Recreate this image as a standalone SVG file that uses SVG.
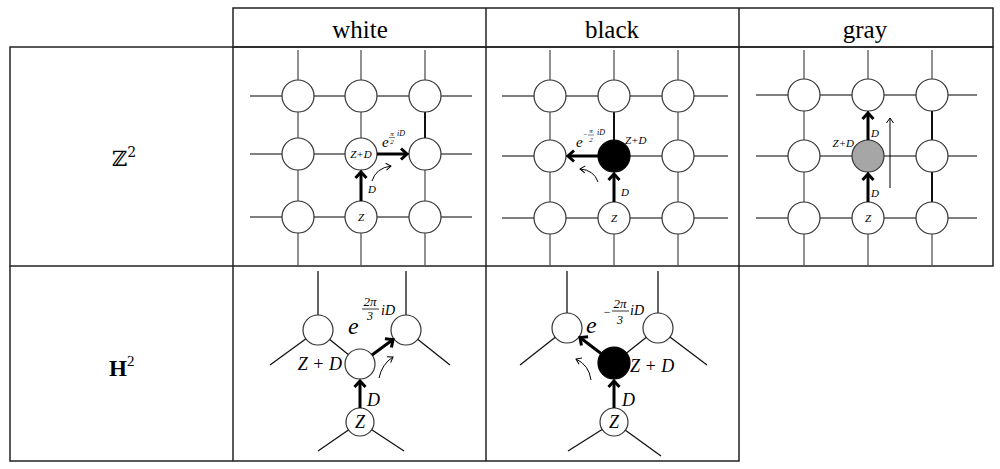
<svg xmlns="http://www.w3.org/2000/svg" width="1000" height="469" viewBox="0 0 1000 469">
<style>
.tb{stroke:#222;stroke-width:1.5;fill:none}
.g{stroke:#555;stroke-width:1.3;fill:none}
.hl{stroke:#111;stroke-width:2;fill:none}
.k{stroke:#111;stroke-width:1.3;fill:none}
.c{fill:#fff;stroke:#333;stroke-width:1.2}
.cb{fill:#000;stroke:#000;stroke-width:1.2}
.cg{fill:#a6a6a6;stroke:#333;stroke-width:1.2}
.ta{stroke:#000;stroke-width:3;fill:none;marker-end:url(#th)}
.tn{stroke:#000;stroke-width:1;fill:none;marker-end:url(#tn)}
.hd{font-family:'Liberation Serif','DejaVu Serif',serif;font-size:25px;text-anchor:middle;fill:#000}
.i{font-family:'Liberation Serif','DejaVu Serif',serif;font-style:italic;fill:#000}
.s{font-size:11px}
.m{font-size:18px}
.ctr{text-anchor:middle}
</style>
<defs>
<marker id="th" markerUnits="userSpaceOnUse" markerWidth="14" markerHeight="14" refX="8" refY="7" orient="auto">
<path d="M2,1.5 L8,7 L2,12.5" stroke="#000" stroke-width="3" fill="none"/>
</marker>
<marker id="tn" markerUnits="userSpaceOnUse" markerWidth="10" markerHeight="10" refX="6" refY="5" orient="auto">
<path d="M1,1.5 L6,5 L1,8.5" stroke="#000" stroke-width="1" fill="none"/>
</marker>
</defs>
<g id="table">
<rect x="233" y="8" width="760" height="39" class="tb"/>
<line x1="486" y1="8" x2="486" y2="461" class="tb"/>
<line x1="739" y1="8" x2="739" y2="266" class="tb"/>
<rect x="10" y="47" width="983" height="219" class="tb"/>
<polyline points="10,266 10,461 739,461 739,266" class="tb"/>
<line x1="233" y1="47" x2="233" y2="461" class="tb"/>
<text x="360" y="38" class="hd">white</text>
<text x="612" y="38" class="hd">black</text>
<text x="865" y="38" class="hd">gray</text>
<text x="112" y="166" font-family="'DejaVu Serif',serif" font-size="21">ℤ<tspan font-size="14" dy="-9">2</tspan></text>
<text x="109" y="376" font-family="'Liberation Serif',serif" font-size="23" font-weight="bold">H<tspan font-size="15" font-weight="normal" dy="-10">2</tspan></text>
</g>
<g id="connectors">
<g class="g">
<line x1="298" y1="50" x2="298" y2="265"/><line x1="361" y1="50" x2="361" y2="265"/><line x1="425" y1="50" x2="425" y2="265"/>
<line x1="250" y1="96" x2="472" y2="96"/><line x1="250" y1="154" x2="472" y2="154"/><line x1="250" y1="217" x2="472" y2="217"/>
</g>
<line x1="425" y1="96" x2="425" y2="154" class="hl"/>
<g class="g">
<line x1="550" y1="50" x2="550" y2="265"/><line x1="614" y1="50" x2="614" y2="265"/><line x1="678" y1="50" x2="678" y2="265"/>
<line x1="502" y1="96" x2="728" y2="96"/><line x1="502" y1="156" x2="728" y2="156"/><line x1="502" y1="218" x2="728" y2="218"/>
</g>
<line x1="614" y1="96" x2="614" y2="156" class="hl"/>
<g class="g">
<line x1="804" y1="50" x2="804" y2="265"/><line x1="868" y1="50" x2="868" y2="265"/><line x1="932" y1="50" x2="932" y2="265"/>
<line x1="756" y1="95" x2="977" y2="95"/><line x1="756" y1="156" x2="977" y2="156"/><line x1="756" y1="218" x2="977" y2="218"/>
</g>
<line x1="932" y1="95" x2="932" y2="218" class="hl"/>
<g class="k">
<line x1="318" y1="271" x2="318" y2="330"/><line x1="318" y1="330" x2="270" y2="365"/><line x1="318" y1="330" x2="360" y2="364"/>
<line x1="406" y1="271" x2="406" y2="330"/><line x1="406" y1="330" x2="450" y2="365"/>
<line x1="360" y1="422" x2="318" y2="451"/><line x1="360" y1="422" x2="404" y2="451"/>
</g>
<g class="k">
<line x1="567" y1="271" x2="567" y2="328"/><line x1="567" y1="328" x2="520" y2="365"/>
<line x1="658" y1="271" x2="658" y2="328"/><line x1="658" y1="328" x2="707" y2="365"/><line x1="658" y1="328" x2="614" y2="363"/>
<line x1="614" y1="422" x2="568" y2="451"/><line x1="614" y1="422" x2="661" y2="456"/>
</g>
</g>
<g id="nodes-white">
<circle cx="298" cy="96" r="16" class="c"/><circle cx="361" cy="96" r="16" class="c"/><circle cx="425" cy="96" r="16" class="c"/>
<circle cx="298" cy="154" r="16" class="c"/><circle cx="361" cy="154" r="16" class="c"/><circle cx="425" cy="154" r="16" class="c"/>
<circle cx="298" cy="217" r="16" class="c"/><circle cx="361" cy="217" r="16" class="c"/><circle cx="425" cy="217" r="16" class="c"/>
</g>
<g id="nodes-black">
<circle cx="550" cy="96" r="16" class="c"/><circle cx="614" cy="96" r="16" class="c"/><circle cx="678" cy="96" r="16" class="c"/>
<circle cx="550" cy="156" r="16" class="c"/><circle cx="614" cy="156" r="16" class="cb"/><circle cx="678" cy="156" r="16" class="c"/>
<circle cx="550" cy="218" r="16" class="c"/><circle cx="614" cy="218" r="16" class="c"/><circle cx="678" cy="218" r="16" class="c"/>
</g>
<g id="nodes-gray">
<circle cx="804" cy="95" r="16" class="c"/><circle cx="868" cy="95" r="16" class="c"/><circle cx="932" cy="95" r="16" class="c"/>
<circle cx="804" cy="156" r="16" class="c"/><circle cx="868" cy="156" r="16" class="cg"/><circle cx="932" cy="156" r="16" class="c"/>
<circle cx="804" cy="218" r="16" class="c"/><circle cx="868" cy="218" r="16" class="c"/><circle cx="932" cy="218" r="16" class="c"/>
</g>
<g id="nodes-h2-white">
<circle cx="318" cy="330" r="15" class="c"/><circle cx="406" cy="330" r="15" class="c"/>
<circle cx="360" cy="364" r="15" class="c"/><circle cx="360" cy="422" r="14" class="c"/>
</g>
<g id="nodes-h2-black">
<circle cx="567" cy="328" r="15" class="c"/><circle cx="658" cy="328" r="15" class="c"/>
<circle cx="614" cy="363" r="16" class="cb"/><circle cx="614" cy="422" r="14" class="c"/>
</g>
<g id="arrows">
<line x1="361" y1="201" x2="361" y2="172" class="ta"/>
<line x1="377" y1="154" x2="407" y2="154" class="ta"/>
<path d="M372,181 Q376,168 391,166" class="tn"/>
<line x1="614" y1="202" x2="614" y2="174" class="ta"/>
<line x1="598" y1="156" x2="568" y2="156" class="ta"/>
<path d="M598,182 Q594,170 580,169" class="tn"/>
<line x1="868" y1="202" x2="868" y2="174" class="ta"/>
<line x1="868" y1="140" x2="868" y2="113" class="ta"/>
<line x1="890" y1="188" x2="890" y2="118" class="tn"/>
<line x1="360" y1="408" x2="360" y2="381" class="ta"/>
<line x1="372" y1="355" x2="393" y2="339.5" class="ta"/>
<path d="M379,378 Q382,364 393,357" class="tn"/>
<line x1="614" y1="408" x2="614" y2="381" class="ta"/>
<line x1="601" y1="353.5" x2="580" y2="337.5" class="ta"/>
<path d="M591,380 Q589,365 576,359" class="tn"/>
</g>
<g id="labels">
<text x="361" y="158" class="i s ctr">Z+D</text>
<text x="361" y="221" class="i s ctr">Z</text>
<text x="368" y="193" class="i s">D</text>
<text x="382" y="147" class="i" font-size="15">e</text>
<text x="392" y="136" class="i ctr" font-size="7">π</text>
<line x1="389" y1="137.5" x2="395" y2="137.5" stroke="#000" stroke-width="0.5"/>
<text x="392" y="143.5" class="i ctr" font-size="7" font-style="normal">2</text>
<text x="397" y="136" class="i" font-size="8">iD</text>

<text x="625" y="144" class="i s">Z+D</text>
<text x="614" y="222" class="i s ctr">Z</text>
<text x="621" y="196" class="i s">D</text>
<text x="576" y="147" class="i" font-size="15">e</text>
<text x="585" y="137" class="i ctr" font-size="7" font-style="normal">−</text>
<text x="591" y="133" class="i ctr" font-size="7">π</text>
<line x1="588" y1="135" x2="594" y2="135" stroke="#000" stroke-width="0.5"/>
<text x="591" y="142" class="i ctr" font-size="7" font-style="normal">2</text>
<text x="597" y="135" class="i" font-size="8">iD</text>

<text x="854" y="147" class="i s" text-anchor="end">Z+D</text>
<text x="868" y="222" class="i s ctr">Z</text>
<text x="871" y="137" class="i s">D</text>
<text x="871" y="197" class="i s">D</text>

<text x="342" y="370" class="i m" text-anchor="end">Z + D</text>
<text x="360" y="428" class="i m ctr">Z</text>
<text x="367" y="406" class="i m">D</text>
<text x="348" y="334" class="i" font-size="24">e</text>
<text x="370" y="306" class="i ctr" font-size="13" font-style="normal">2<tspan font-style="italic">π</tspan></text>
<line x1="362" y1="309" x2="379" y2="309" stroke="#000" stroke-width="0.8"/>
<text x="370" y="320" class="i ctr" font-size="12" font-style="normal">3</text>
<text x="381" y="315" class="i" font-size="14">iD</text>

<text x="630" y="372" class="i m">Z + D</text>
<text x="614" y="428" class="i m ctr">Z</text>
<text x="622" y="406" class="i m">D</text>
<text x="586" y="333" class="i" font-size="24">e</text>
<text x="607" y="316" class="i ctr" font-size="12" font-style="normal">−</text>
<text x="620" y="308" class="i ctr" font-size="13" font-style="normal">2<tspan font-style="italic">π</tspan></text>
<line x1="612" y1="311" x2="629" y2="311" stroke="#000" stroke-width="0.8"/>
<text x="620" y="324" class="i ctr" font-size="12" font-style="normal">3</text>
<text x="630" y="315" class="i" font-size="14">iD</text>
</g>
</svg>
